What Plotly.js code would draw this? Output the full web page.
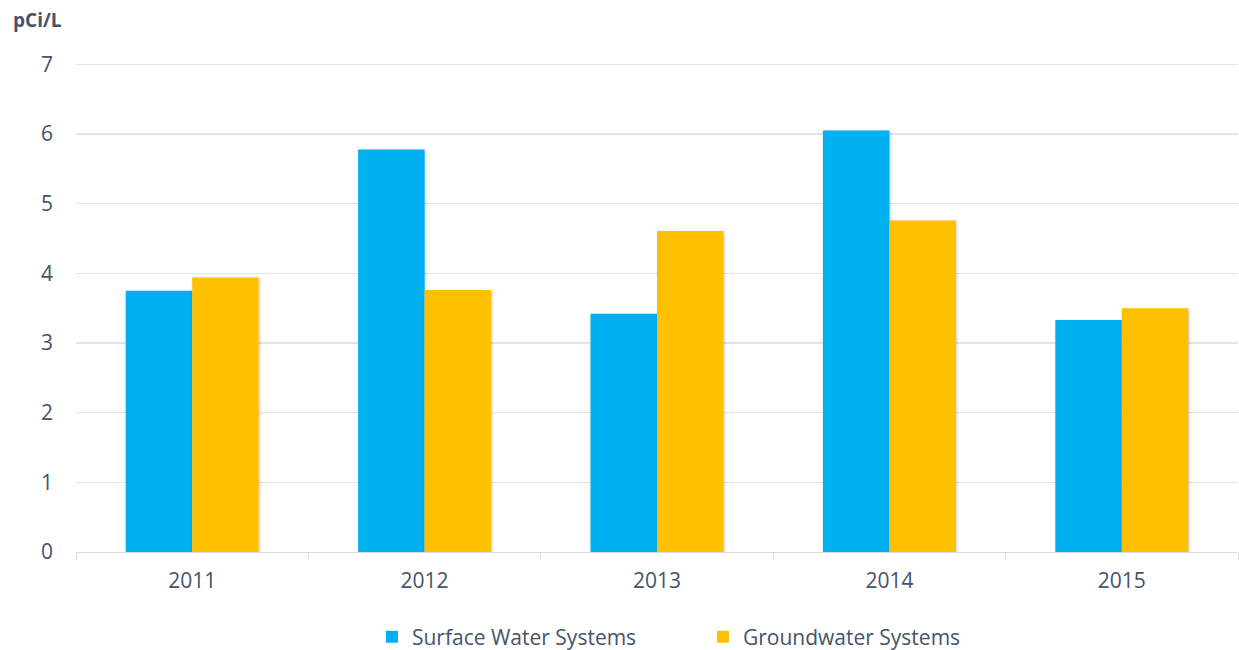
<!DOCTYPE html>
<html>
<head>
<meta charset="utf-8">
<script src="https://cdn.plot.ly/plotly-3.0.1.min.js"></script>
<style>
html,body{margin:0;padding:0;background:#fff;}
#chart{width:1239px;height:650px;}
.bars .point path{filter:drop-shadow(1px 1px 1.5px rgba(0,0,0,0.22));}
</style>
</head>
<body>
<div id="chart"></div>
<script>
const years = ["2011", "2012", "2013", "2014", "2015"];
const surfaceWater = [3.75, 5.78, 3.42, 6.05, 3.33];
const groundwater = [3.94, 3.76, 4.61, 4.76, 3.50];
const yTicks = [0, 1, 2, 3, 4, 5, 6, 7];

const textColor = "#44546a";
const font = "Open Sans, sans-serif";

const data = [
  {type: "bar", name: "Surface Water Systems", x: years, y: surfaceWater,
   marker: {color: "#00b0f0", line: {width: 0}}, hoverinfo: "y"},
  {type: "bar", name: "Groundwater Systems", x: years, y: groundwater,
   marker: {color: "#ffc000", line: {width: 0}}, hoverinfo: "y"}
];

const layout = {
  width: 1239, height: 650,
  margin: {l: 76, r: 1, t: 63, b: 98, autoexpand: false},
  paper_bgcolor: "#fff", plot_bgcolor: "#fff",
  font: {family: font, color: textColor, size: 20},
  barmode: "group", bargap: 0.428, bargroupgap: 0,
  showlegend: true,
  legend: {orientation: "h", x: 0.2547, xanchor: "left", yref: "container", y: 0.02, yanchor: "middle",
           font: {size: 21, color: textColor}, traceorder: "normal",
           entrywidth: 286, entrywidthmode: "pixels", itemwidth: 30},
  xaxis: {type: "category", tickson: "boundaries", ticks: "outside", ticklen: 7,
          tickcolor: "#d9dde3", showline: true, linecolor: "#d9dde3", linewidth: 1,
          showgrid: false, tickfont: {size: 21, color: textColor}, ticklabelstandoff: 10,
          fixedrange: true, automargin: false},
  yaxis: {range: [0, 7.02], tickvals: yTicks, ticktext: yTicks.map(String),
          showgrid: true, gridcolor: "#e1e5ea", gridwidth: 1.3, zeroline: false,
          showline: false, ticks: "", tickfont: {size: 21, color: textColor},
          ticklabelstandoff: 22, fixedrange: true, automargin: false},
  annotations: [{text: "<b>pCi/L</b>", xref: "paper", yref: "paper", x: -0.056, y: 1.088,
                 xanchor: "left", yanchor: "middle", showarrow: false,
                 font: {size: 19, color: textColor, family: font}}]
};

Plotly.newPlot("chart", data, layout, {displayModeBar: false, staticPlot: true});
</script>
</body>
</html>
